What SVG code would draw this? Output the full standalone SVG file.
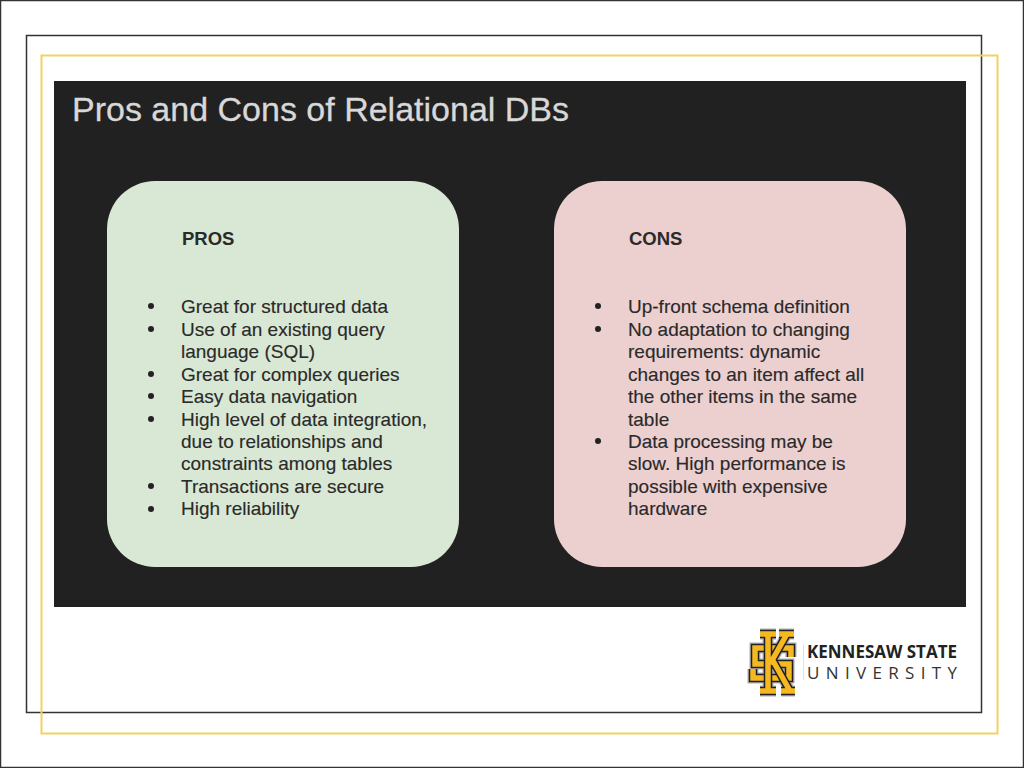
<svg xmlns="http://www.w3.org/2000/svg" width="1024" height="768" viewBox="0 0 1024 768">
<style>
.t{font-family:"Liberation Sans",Arial,sans-serif;font-size:19px;fill:#2a2a2a;stroke:#2a2a2a;stroke-width:.15}
.h{font-family:"Liberation Sans",Arial,sans-serif;font-size:18.5px;font-weight:bold;fill:#2a2a2a}
.b{fill:#222}
.ks{fill:none;stroke-linejoin:miter;stroke-linecap:butt}
</style>
<defs>
<path id="ks-s" d="M791 657V648H755V664H789V678H753V669"/>
<path id="ks-k" d="M760 634H776M768 634V691M760 691H776M779 634H794M787 634L770 664M772 659L790 691M781 691H795"/>
</defs>
<rect x="0.5" y="0.5" width="1023" height="767" fill="#fff" stroke="#333" stroke-width="1.5"/>
<rect x="26.5" y="35.5" width="955" height="677" fill="none" stroke="#333" stroke-width="1.5"/>
<rect x="41.5" y="55.5" width="956" height="678" fill="none" stroke="#f3d064" stroke-width="2"/>
<rect x="54" y="81" width="912" height="526" fill="#212121"/>
<text x="72" y="121" font-family="Liberation Sans,Arial,sans-serif" font-size="34" fill="#d8d8d8" stroke="#d8d8d8" stroke-width=".3">Pros and Cons of Relational DBs</text>
<g id="pros">
<rect x="107" y="181" width="352" height="386" rx="48" fill="#d9e8d4"/>
<text class="h" x="182" y="245">PROS</text>
<circle class="b" cx="151" cy="306" r="3"/><text class="t" x="181" y="313">Great for structured data</text>
<circle class="b" cx="151" cy="329" r="3"/><text class="t" x="181" y="336">Use of an existing query</text>
<text class="t" x="181" y="358">language (SQL)</text>
<circle class="b" cx="151" cy="374" r="3"/><text class="t" x="181" y="381">Great for complex queries</text>
<circle class="b" cx="151" cy="396" r="3"/><text class="t" x="181" y="403">Easy data navigation</text>
<circle class="b" cx="151" cy="419" r="3"/><text class="t" x="181" y="426">High level of data integration,</text>
<text class="t" x="181" y="448">due to relationships and</text>
<text class="t" x="181" y="470">constraints among tables</text>
<circle class="b" cx="151" cy="486" r="3"/><text class="t" x="181" y="493">Transactions are secure</text>
<circle class="b" cx="151" cy="509" r="3"/><text class="t" x="181" y="515">High reliability</text>
</g>
<g id="cons">
<rect x="554" y="181" width="352" height="386" rx="48" fill="#eccfcf"/>
<text class="h" x="629" y="245">CONS</text>
<circle class="b" cx="598" cy="306" r="3"/><text class="t" x="628" y="313">Up-front schema definition</text>
<circle class="b" cx="598" cy="329" r="3"/><text class="t" x="628" y="336">No adaptation to changing</text>
<text class="t" x="628" y="358">requirements: dynamic</text>
<text class="t" x="628" y="381">changes to an item affect all</text>
<text class="t" x="628" y="403">the other items in the same</text>
<text class="t" x="628" y="426">table</text>
<circle class="b" cx="598" cy="441" r="3"/><text class="t" x="628" y="448">Data processing may be</text>
<text class="t" x="628" y="470">slow. High performance is</text>
<text class="t" x="628" y="493">possible with expensive</text>
<text class="t" x="628" y="515">hardware</text>
</g>
<g id="logo">
<g class="ks">
<use href="#ks-s" stroke="#b0b0b0" stroke-width="11"/>
<use href="#ks-k" stroke="#b0b0b0" stroke-width="11"/>
<use href="#ks-s" stroke="#222" stroke-width="8.5"/>
<use href="#ks-s" stroke="#f5b821" stroke-width="5.5"/>
<use href="#ks-k" stroke="#222" stroke-width="8.5"/>
<use href="#ks-k" stroke="#f5b821" stroke-width="5.5"/>
</g>
<line x1="803.5" y1="645" x2="803.5" y2="680" stroke="#f0e3b0"/>
<text x="807" y="658" font-family="Open Sans,Liberation Sans,sans-serif" font-weight="bold" font-size="17.5" textLength="150" lengthAdjust="spacingAndGlyphs" fill="#222">KENNESAW STATE</text>
<text x="807" y="679" font-family="Open Sans,Liberation Sans,sans-serif" font-size="17" textLength="150" lengthAdjust="spacing" fill="#333">UNIVERSITY</text>
</g>
</svg>
